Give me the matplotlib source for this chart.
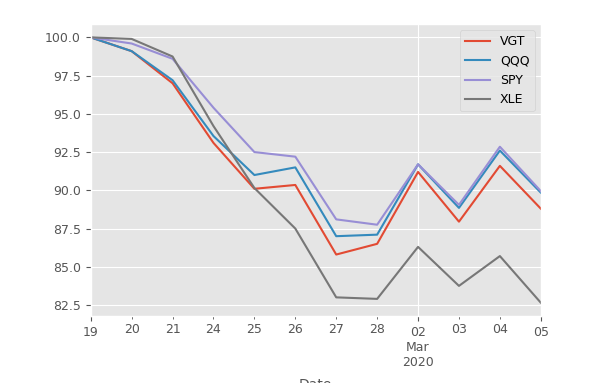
import matplotlib
matplotlib.use("Agg")
import matplotlib.pyplot as plt
import pandas as pd

plt.style.use("ggplot")

# trading days 19 Feb - 05 Mar 2020, prices rebased to 100
dates = pd.bdate_range("2020-02-19", "2020-03-05", name="Date")

vgt = [100.0, 99.1, 97.0, 93.1, 90.1, 90.35, 85.8, 86.5, 91.2, 87.95, 91.6, 88.8]
qqq = [100.0, 99.1, 97.2, 93.55, 91.0, 91.5, 87.0, 87.1, 91.7, 88.85, 92.6, 89.85]
spy = [100.0, 99.6, 98.6, 95.4, 92.5, 92.2, 88.1, 87.75, 91.7, 89.05, 92.85, 89.95]
xle = [100.0, 99.9, 98.75, 94.2, 90.15, 87.5, 83.0, 82.9, 86.3, 83.75, 85.7, 82.65]

df = pd.DataFrame({"VGT": vgt, "QQQ": qqq, "SPY": spy, "XLE": xle}, index=dates)

fig = plt.figure(figsize=(6.09, 3.83), dpi=100)
ax = fig.add_axes([0.149, 0.175, 0.739, 0.762])
df.plot(ax=ax)

for lab in ax.get_xticklabels(which="both"):
    lab.set_fontsize(9)
for lab in ax.get_yticklabels():
    lab.set_fontsize(9)
ax.legend(fontsize=9)
# the label sits at the very bottom edge, partly cut off as in the notebook shot
ax.set_xlabel("Date", fontsize=10, labelpad=7)

fig.savefig("out.png", dpi=100)
